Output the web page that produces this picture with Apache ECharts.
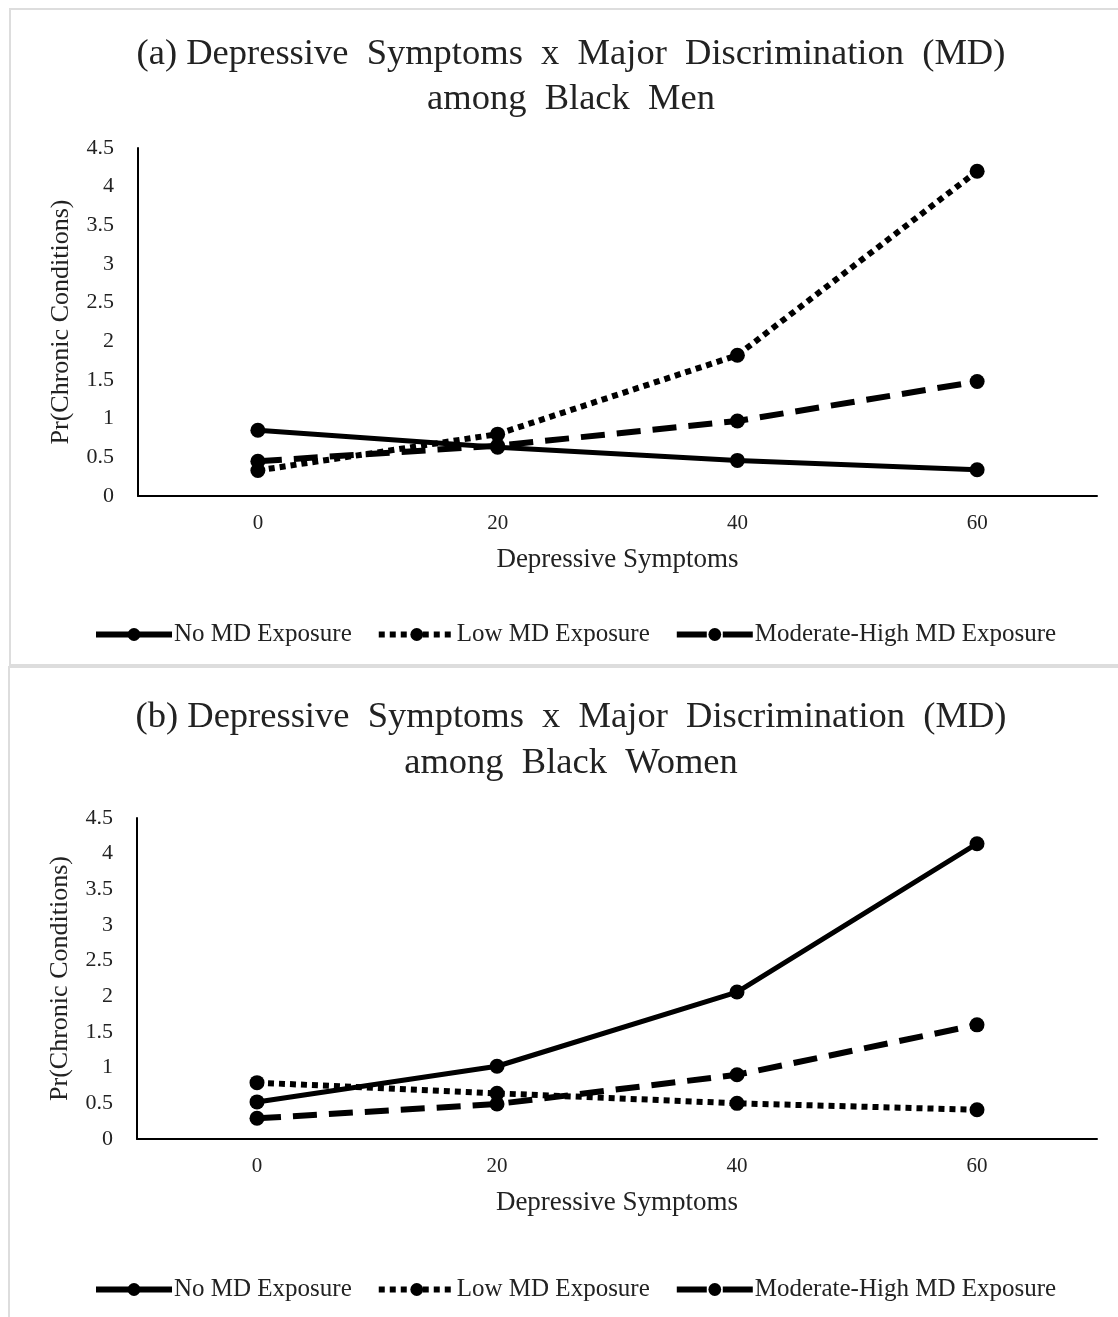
<!DOCTYPE html>
<html>
<head>
<meta charset="utf-8">
<script src="https://cdn.jsdelivr.net/npm/echarts@6/dist/echarts.min.js"></script>
<style>
  html, body { margin: 0; padding: 0; background: #fff; }
  #main { width: 1118px; height: 1317px; }
</style>
</head>
<body>
<div id="main"></div>
<script>
// x categories (depressive symptoms)
const symptoms = ['0', '20', '40', '60'];

// (a) Black men
const menNoMD = [0.85, 0.63, 0.46, 0.34];
const menLowMD = [0.33, 0.80, 1.82, 4.20];
const menModHighMD = [0.45, 0.65, 0.97, 1.48];

// (b) Black women
const womenNoMD = [0.52, 1.02, 2.06, 4.14];
const womenLowMD = [0.79, 0.64, 0.50, 0.41];
const womenModHighMD = [0.29, 0.49, 0.90, 1.60];

const seriesNames = ['No MD Exposure', 'Low MD Exposure', 'Moderate-High MD Exposure'];

const font = '"Liberation Serif", "DejaVu Serif", serif';

const lineStyles = [
    { width: 5, type: 'solid' },
    { width: 6, type: [6, 5], cap: 'butt' },
    { width: 6, type: [24, 12], cap: 'butt' }
];

function makeSeries(values, gridIdx) {
    return values.map((v, i) => ({
        name: seriesNames[i],
        type: 'line',
        xAxisIndex: gridIdx,
        yAxisIndex: gridIdx,
        data: v,
        symbol: 'circle',
        symbolSize: 15,
        color: '#000',
        itemStyle: { color: '#000' },
        lineStyle: Object.assign({ color: '#000' }, lineStyles[i]),
        animation: false
    }));
}

function xAxis(gridIdx) {
    return {
        type: 'category',
        gridIndex: gridIdx,
        data: symptoms,
        boundaryGap: true,
        name: 'Depressive Symptoms',
        nameLocation: 'middle',
        nameGap: 50,
        nameTextStyle: { fontFamily: font, fontSize: 27, color: '#222' },
        axisLine: { lineStyle: { color: '#000', width: 2 } },
        axisTick: { show: false },
        axisLabel: { fontFamily: font, fontSize: 21, color: '#222', margin: 17 }
    };
}

function yAxis(gridIdx) {
    return {
        type: 'value',
        gridIndex: gridIdx,
        min: 0,
        max: 4.5,
        interval: 0.5,
        name: 'Pr(Chronic Conditions)',
        nameLocation: 'middle',
        nameGap: 64,
        nameTextStyle: { fontFamily: font, fontSize: 26, color: '#222' },
        axisLine: { show: true, lineStyle: { color: '#000', width: 2 } },
        axisTick: { show: false },
        splitLine: { show: false },
        axisLabel: { fontFamily: font, fontSize: 22, color: '#222', margin: 24 }
    };
}

// legend entries, dashed one gets a longer dash so the marker sits in the gap
const legendData = [
    { name: seriesNames[0] },
    { name: seriesNames[1] },
    { name: seriesNames[2], lineStyle: { type: [30, 16] } }
];

const legendBase = {
    data: legendData,
    itemWidth: 76,
    itemHeight: 16,
    itemGap: 24,
    lineStyle: { width: 6 },
    textStyle: { fontFamily: font, fontSize: 25, color: '#222', padding: [0, 0, 0, -3] },
    left: 88
};

const titleStyle = { fontFamily: font, fontSize: 36.5, fontWeight: 'normal', color: '#222' };

const option = {
    backgroundColor: '#fff',
    textStyle: { fontFamily: font },
    title: [
        {
            text: '(a) Depressive  Symptoms  x  Major  Discrimination  (MD)\namong  Black  Men',
            left: 566,
            top: 27,
            textAlign: 'center',
            textStyle: Object.assign({ lineHeight: 45 }, titleStyle)
        },
        {
            text: '(b) Depressive  Symptoms  x  Major  Discrimination  (MD)\namong  Black  Women',
            left: 566,
            top: 689,
            textAlign: 'center',
            textStyle: Object.assign({ lineHeight: 46 }, titleStyle)
        }
    ],
    legend: [
        Object.assign({ top: 617 }, legendBase),
        Object.assign({ top: 1272 }, legendBase)
    ],
    grid: [
        { left: 138, right: 21, top: 148, height: 348 },
        { left: 137, right: 21, top: 818, height: 321 }
    ],
    xAxis: [xAxis(0), xAxis(1)],
    yAxis: [yAxis(0), yAxis(1)],
    series: makeSeries([menNoMD, menLowMD, menModHighMD], 0)
        .concat(makeSeries([womenNoMD, womenLowMD, womenModHighMD], 1)),
    graphic: [
        {
            type: 'rect',
            shape: { x: 10, y: 9, width: 1120, height: 656 },
            style: { fill: 'none', stroke: '#ddd', lineWidth: 2 },
            silent: true
        },
        {
            type: 'rect',
            shape: { x: 9, y: 667, width: 1120, height: 670 },
            style: { fill: 'none', stroke: '#ddd', lineWidth: 2 },
            silent: true
        }
    ]
};

const chart = echarts.init(document.getElementById('main'), null, { renderer: 'canvas' });
chart.setOption(option);
</script>
</body>
</html>
